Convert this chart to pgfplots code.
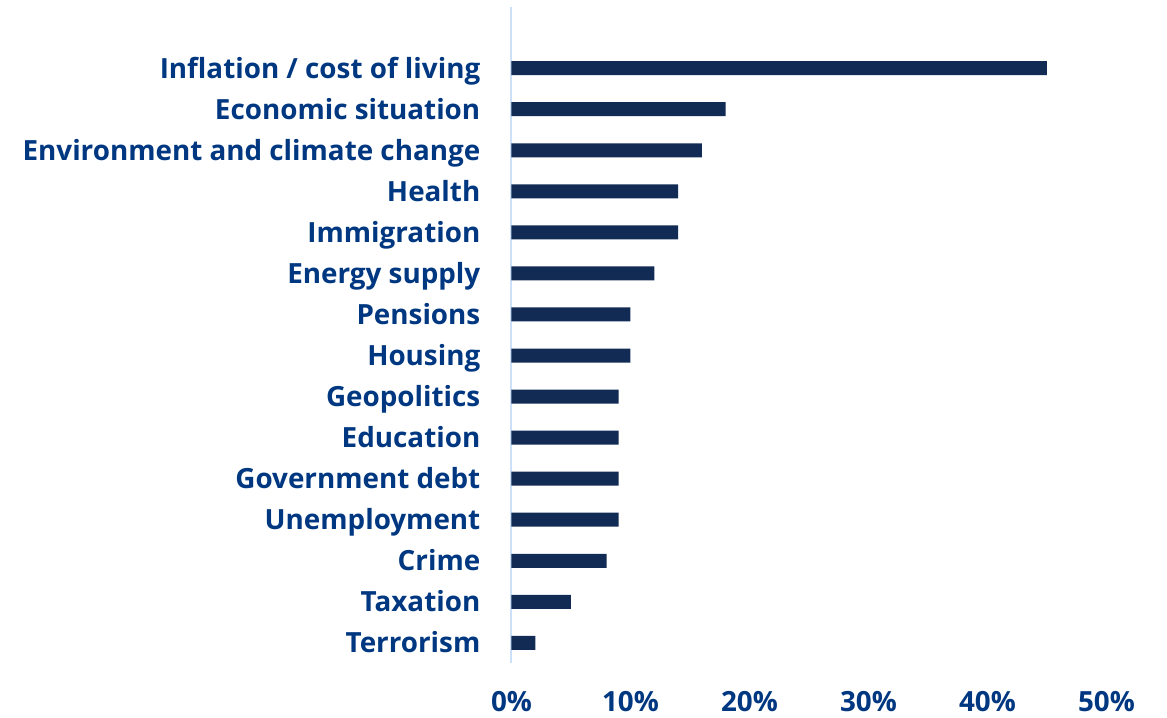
\documentclass[border=0pt]{standalone}
\usepackage{pgfplots}
\pgfplotsset{compat=1.18}
\usepackage{fontspec}
\setmainfont{Open Sans}
\definecolor{labelblue}{HTML}{003781}
\definecolor{barnavy}{HTML}{122B54}
\definecolor{axisblue}{HTML}{CCE0F8}
\begin{document}
\begin{tikzpicture}
\begin{axis}[
  name=main,
  scale only axis,
  width=595bp, height=656bp,
  xmin=0, xmax=50, ymin=-0.49, ymax=15.49,
  xbar, bar width=14bp, bar shift=0pt,
  axis lines*=left,
  x axis line style={draw=none},
  y axis line style={draw=axisblue, line width=2bp},
  major tick length=0pt,
  xtick={0,10,20,30,40,50},
  xticklabels={0\%,10\%,20\%,30\%,40\%,50\%},
  ytick={0,...,14},
  yticklabels={Terrorism,Taxation,Crime,Unemployment,Government debt,Education,Geopolitics,Housing,Pensions,Energy supply,Immigration,Health,Environment and climate change,Economic situation,Inflation / cost of living},
  ticklabel style={font=\fontsize{27.8bp}{30bp}\selectfont\bfseries, text=labelblue},
  yticklabel style={inner sep=0pt, anchor=east, xshift=-31bp, text height=20bp, text depth=0pt},
  xticklabel style={inner sep=0pt, anchor=north, yshift=-28bp},
  clip=false,
]
\addplot[fill=barnavy, draw=none] coordinates {
(2,0) (5,1) (8,2) (9,3) (9,4) (9,5) (9,6) (10,7) (10,8) (12,9) (14,10) (14,11) (16,12) (18,13) (45,14)
};
\end{axis}
\useasboundingbox ([xshift=-511.5bp,yshift=7bp]main.north west) rectangle ([xshift=60.5bp,yshift=-55bp]main.south east);
\end{tikzpicture}
\end{document}
